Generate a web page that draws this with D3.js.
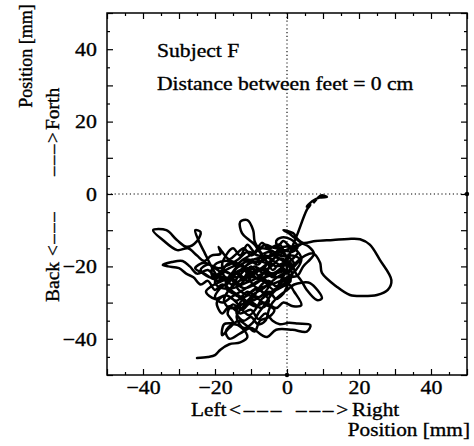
<!DOCTYPE html>
<html><head><meta charset="utf-8">
<script src="https://cdn.jsdelivr.net/npm/d3@7"></script>
<style>
html,body{margin:0;padding:0;background:#fff;}
svg{display:block;}
text{font-family:"Liberation Serif","Times New Roman",serif;fill:#000;stroke:#000;stroke-width:0.35px;}
</style></head>
<body>
<svg id="chart" width="474" height="446"></svg>
<script>
// ---- data: sway trace, [left/right mm, back/forth mm] ----
const traceStart = [[-25,-45.3],[-22,-45],[-20,-44.5],[-18.5,-43],[-16,-41.5],[-13,-41],[-11,-39.5],[-12.5,-37],[-15,-36],[-17,-38],[-16,-40],[-13,-38.5],[-10,-37],[-7,-39],[-5.5,-39.5],[-3,-37.5],[1.5,-37.5],[5.5,-38],[6.5,-36.2],[3,-35.8],[0.5,-35.6],[-2,-36],[-4,-35],[-6,-33],[-8,-34.5],[-10,-32],[-13,-33],[-16,-31],[-18,-33],[-19.5,-30],[-17,-28],[-14,-29.5],[-11,-27],[-8,-28.5],[-5,-27],[-3,-29],[-1,-27.5],[0.5,-25],[2,-27],[4,-30.7],[1.7,-31],[-1,-30],[-3,-31.5],[-6,-30],[-9,-31],[-12,-29],[-15,-27],[-18,-25],[-20,-26.5],[-22,-24],[-24,-25],[-26,-23],[-28,-22],[-30,-20.5],[-33,-20],[-34.5,-19.6],[-32,-18.8],[-29,-18.5],[-27,-20],[-25,-22],[-22,-21],[-20,-22.5],[-18,-21],[-16,-19],[-13,-20],[-11,-18],[-8,-19.5],[-6,-17],[-4,-18],[-2,-16],[0,-17],[2,-15],[4,-13.8],[1,-14.5],[-1,-13],[-3,-15],[-6,-14],[-8,-15.5],[-10,-17],[-12,-15],[-14,-16.5],[-16,-18],[-18,-16],[-19,-14.6],[-18.5,-16.5],[-21,-17],[-23,-18.5],[-25,-17],[-27.5,-15],[-30.5,-15.5],[-34.5,-12.7],[-37.2,-10]];
const traceLoop = [[-33.5,-10],[-30.6,-12.7],[-27.8,-14.6],[-25,-13],[-24,-10.5],[-25.5,-10],[-24.5,-13],[-23,-16],[-21,-20],[-19,-23],[-16,-24],[-14,-22],[-12,-24],[-10,-22],[-8,-23.5],[-6,-21.5],[-4,-23],[-2,-21],[0,-22],[2,-20],[3.5,-18],[1,-17],[-1,-19],[-3,-20],[-5,-19],[-7,-21],[-9,-20],[-11,-22],[-13,-25],[-15,-23.5],[-17,-26],[-14,-28],[-11,-30],[-9,-28],[-7,-25],[-5,-24],[-3,-25.5],[-1,-24],[1,-23],[3,-22.5],[4.5,-20],[6.5,-18],[7.5,-16.5],[6,-14.5],[4,-13.5],[2,-12],[0,-10.5],[-1,-10],[1.7,-10.8],[3,-12.5],[4.5,-13.5],[8,-13],[12.8,-12.7],[17,-12.4],[20.3,-12.5],[23,-14],[25.8,-18.2],[29,-23.8],[28,-26.5],[25,-27.9],[21,-28.2],[17.5,-27.9],[13.8,-25.6],[9.7,-21.8],[9.2,-19],[7.3,-16.4],[5,-17],[3,-18.5],[1,-20]];
const traceCoreA = [[-2,-14],[-5,-15],[-7,-13.5],[-9,-16],[-11,-14],[-13,-17],[-15,-15],[-17,-17],[-18,-20],[-16,-22],[-13,-21],[-10,-19],[-7,-18.5],[-4,-16.5],[-1,-15.5],[1.5,-16],[3,-14.5],[1,-12.5],[-1.5,-12],[-3,-13],[-2.5,-16],[-4.5,-19],[-6,-22],[-8.5,-21],[-11,-24],[-13,-22.5],[-15.5,-25],[-17,-23],[-19.5,-24],[-21,-22],[-20,-19.5],[-17.5,-18.5],[-14,-19],[-12,-20.5],[-9.5,-25],[-7,-27],[-5,-29.5],[-7,-31.5],[-10,-30],[-12.5,-32],[-15,-30.5],[-16.5,-33],[-15,-35.5],[-17.5,-36],[-18,-39],[-16,-37],[-13.5,-35],[-11,-36.5],[-9,-38],[-7.5,-35],[-5,-34],[-3.5,-32],[-6,-30.5],[-8,-29],[-10.5,-28],[-12,-27.5],[-14,-25.5],[-12,-23],[-9,-23],[-6,-24.5],[-3.5,-26.5],[-1.5,-23.5],[0,-20.5],[-2,-18],[-5,-20.5],[-8,-21],[-11,-20.5],[-14,-23],[-17,-21.5],[-20,-23.5],[-23,-22],[-25.5,-20.5],[-23,-19],[-20,-20.5]];
const traceCoreB = [[-18,-22],[-16,-24],[-14,-21.5],[-12,-23],[-10,-20],[-8,-22.5],[-6,-21.5],[-3,-23],[-1,-23],[-3,-26],[-6,-27.5],[-8,-26],[-10,-27],[-13,-30],[-14,-33],[-12,-35],[-10,-34],[-8,-36],[-6,-35],[-5,-32],[-4,-30],[-2,-28],[0,-26.5],[2,-25],[4,-24.5],[6.4,-24.6],[9.7,-28.8],[8.3,-29.3],[5.5,-26.5],[4,-24],[2.5,-22],[1,-19],[-1,-18],[-3,-17.5],[-5,-16],[-7,-16.5],[-9,-14],[-10.5,-12.7],[-12.5,-10.8],[-13,-7.7],[-11,-7.2],[-9.4,-10],[-9,-13],[-8,-15],[-6,-18],[-4,-21]];
const traceCoreC = [[-3,-20],[-6,-19],[-9,-18],[-12,-19],[-14.5,-21],[-16,-24],[-18.5,-26],[-20,-28.5],[-18,-30],[-15.5,-28.5],[-13,-27],[-10.5,-25.5],[-8,-24],[-5.5,-22.5],[-3,-21.5],[-0.5,-19.5],[1.5,-18],[3,-16],[1,-15],[-1.5,-16.5],[-4,-18],[-6.5,-20],[-9,-22],[-11.5,-23],[-14,-24.5],[-16.5,-27],[-17.5,-29.5],[-16,-31.5],[-13.5,-31],[-11,-29.5],[-9,-27.5],[-6.5,-26],[-4,-24],[-2,-22.5],[0,-21.5],[2,-19.5],[0.5,-17.5],[-2,-17],[-4.5,-15.5],[-7,-15],[-9.5,-16.5],[-12,-18],[-14,-19.5],[-16,-20.5],[-18.5,-22],[-20,-24.5],[-18,-26],[-15,-26],[-12.5,-25],[-10,-24],[-7.5,-23],[-5,-25],[-7,-28],[-9.5,-29.5],[-12,-31],[-14,-34],[-12,-37],[-9.5,-35.5],[-8,-33],[-6.5,-31],[-4.5,-28],[-2.5,-26],[-0.5,-24.5],[1.5,-22.5],[0,-19.5],[-2,-19.5]];
const traceCoreD = [[-1,-21],[-4,-22],[-7,-20.5],[-10,-21.5],[-13,-19.5],[-15,-21.5],[-17,-24.5],[-15,-27.5],[-12,-28.5],[-9,-26.5],[-6,-25.5],[-3,-24.5],[0,-23],[2.5,-21],[4,-18],[2.5,-15.5],[0,-14.5],[-2,-15],[-4,-17],[-7,-17.5],[-10,-18.5],[-12.5,-21],[-15,-22.5],[-18,-24],[-21,-25.5],[-22.5,-27],[-20,-29],[-17,-28],[-14.5,-29.5],[-12,-32.5],[-10.5,-33.5],[-8.5,-31.5],[-7,-29],[-4,-27],[-1,-25.5],[1,-24],[0,-21.5],[-3,-19],[-5.5,-17.5],[-8,-17],[-11,-16],[-13.5,-18],[-16,-19.5],[-19,-20.5],[-22,-19.5],[-24,-21],[-21.5,-23],[-18,-23],[-15,-24],[-12,-26],[-9,-25],[-6,-23],[-3,-22],[-1,-20]];
const traceEnd = [[0,-18.5],[1.7,-14],[3,-10.8],[5.5,-4.4],[6.5,-3],[5.5,-3.5],[7,-2],[9,-1],[11.1,-0.8],[9.5,-0.4],[7.5,-2.3]];
const xMajor = [-50,-40,-30,-20,-10,0,10,20,30,40,50];
const xMinor = [-45,-35,-25,-15,-5,5,15,25,35,45];
const yMajor = [-50,-40,-30,-20,-10,0,10,20,30,40,50];
const yMinor = [-45,-35,-25,-15,-5,5,15,25,35,45];
const xLabels = [-40,-20,0,20,40];
const yLabels = [-40,-20,0,20,40];
const noteLines = ["Subject F","Distance between feet = 0 cm"];

const svg = d3.select("#chart");
const L=107,R=467,T=13,B=375;
const x = d3.scaleLinear().domain([-50,50]).range([L,R]);
const y = d3.scaleLinear().domain([-50,50]).range([B,T]);
const fmt = v => v<0 ? "\u2212"+Math.abs(v) : String(v);
const SX = 1.12;

// zero reference dotted lines
svg.append("line").attr("x1",L).attr("x2",R).attr("y1",y(0)).attr("y2",y(0))
  .attr("stroke","#000").attr("stroke-width",1.1).attr("stroke-dasharray","1.2,2.6");
svg.append("line").attr("x1",x(0)).attr("x2",x(0)).attr("y1",T).attr("y2",B)
  .attr("stroke","#000").attr("stroke-width",1.1).attr("stroke-dasharray","1.2,2.6");

// trace
const pts = [].concat(traceStart, traceLoop, traceCoreA, traceCoreB, traceCoreC, traceCoreD, traceEnd);
svg.append("path").datum(pts)
  .attr("d", d3.line().x(d=>x(d[0])).y(d=>y(d[1])).curve(d3.curveCatmullRom.alpha(0.5)))
  .attr("fill","none").attr("stroke","#000").attr("stroke-width",2.5)
  .attr("stroke-linejoin","round").attr("stroke-linecap","round");

// axes ticks (inward)
function tickAxis(gen, transform, vals, size){
  const g = svg.append("g").attr("transform",transform)
    .call(gen.tickValues(vals).tickSize(-size).tickFormat(""));
  g.select(".domain").remove();
  g.selectAll("line").attr("stroke","#000").attr("stroke-width",1.2);
}
tickAxis(d3.axisBottom(x), `translate(0,${B})`, xMajor, 6);
tickAxis(d3.axisBottom(x), `translate(0,${B})`, xMinor, 3);
tickAxis(d3.axisTop(x), `translate(0,${T})`, xMajor, 6);
tickAxis(d3.axisTop(x), `translate(0,${T})`, xMinor, 3);
tickAxis(d3.axisLeft(y), `translate(${L},0)`, yMajor, 6);
tickAxis(d3.axisLeft(y), `translate(${L},0)`, yMinor, 3);
tickAxis(d3.axisRight(y), `translate(${R},0)`, yMajor, 6);
tickAxis(d3.axisRight(y), `translate(${R},0)`, yMinor, 3);

// frame
svg.append("rect").attr("x",L).attr("y",T).attr("width",R-L).attr("height",B-T)
  .attr("fill","none").attr("stroke","#000").attr("stroke-width",1.5);
svg.append("circle").attr("cx",x(0)).attr("cy",B).attr("r",2.2).attr("fill","#000");
svg.append("circle").attr("cx",R).attr("cy",y(0)).attr("r",2.2).attr("fill","#000");

// tick labels
const gx = svg.append("g").attr("transform",`translate(0,${B})`)
  .call(d3.axisBottom(x).tickValues(xLabels).tickSize(0).tickPadding(5).tickFormat(fmt));
gx.select(".domain").remove();
gx.selectAll("text").attr("font-family","Liberation Serif").attr("font-size",19.5)
  .attr("fill","#000").attr("transform",`scale(${SX},1)`);
const gy = svg.append("g").attr("transform",`translate(${L},0)`)
  .call(d3.axisLeft(y).tickValues(yLabels).tickSize(0).tickPadding(9).tickFormat(fmt));
gy.select(".domain").remove();
gy.selectAll("text").attr("font-family","Liberation Serif").attr("font-size",19.5)
  .attr("fill","#000").attr("transform",`scale(${SX},1)`);

// annotation
function hText(str, tx, ty, anchor, size){
  svg.append("text").attr("transform",`translate(${tx},${ty}) scale(${SX},1)`)
    .attr("text-anchor",anchor||"start").attr("font-size",size||19).text(str);
}
hText(noteLines[0],157,57,"start",19.3);
hText(noteLines[1],157,90,"start",19.3);

// x-axis label
hText("Left",191,416,"start",19);
svg.append("text").attr("transform",`translate(229,416) scale(${SX},1)`)
  .attr("font-size",19).attr("letter-spacing",2.5).text("<\u2013\u2013\u2013");
svg.append("text").attr("transform",`translate(296,416) scale(${SX},1)`)
  .attr("font-size",19).attr("letter-spacing",2.5).text("\u2013\u2013\u2013>");
hText("Right",352,416,"start",19);
hText("Position [mm]",470,436,"end",19);

// y-axis label (rotated)
function vText(str, tx, ty, anchor, size, ls){
  const t = svg.append("text").attr("transform",`translate(${tx},${ty}) rotate(-90)`)
    .attr("text-anchor",anchor||"start").attr("font-size",size||19).text(str);
  if(ls) t.attr("letter-spacing",ls);
}
vText("Position [mm]",32,56,"middle",18);
vText("Back",59,302,"start",19.5);
vText("<\u2013\u2013\u2013",59,256,"start",19,1.5);
vText("\u2013\u2013\u2013>",59,176,"start",19,1.5);
vText("Forth",59,130,"start",19.5);
</script>
</body></html>
